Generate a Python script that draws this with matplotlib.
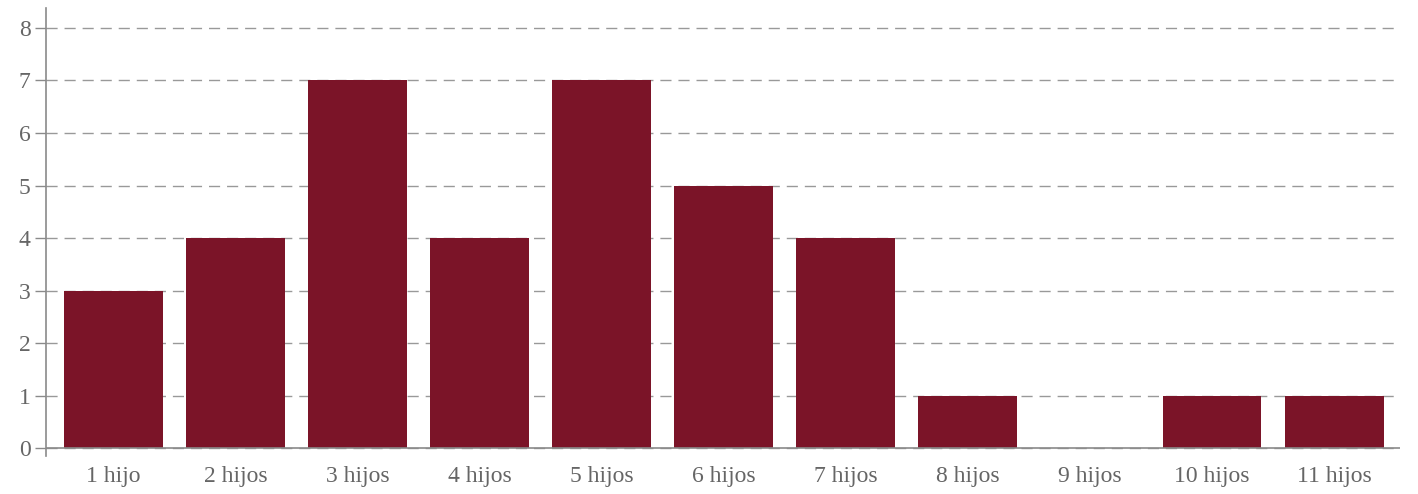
import matplotlib.pyplot as plt

categorias = ["1 hijo", "2 hijos", "3 hijos", "4 hijos", "5 hijos", "6 hijos",
              "7 hijos", "8 hijos", "9 hijos", "10 hijos", "11 hijos"]
valores = [3, 4, 7, 4, 7, 5, 4, 1, 0, 1, 1]
yticks = [0, 1, 2, 3, 4, 5, 6, 7, 8]

plt.rcParams['font.family'] = ['Liberation Serif', 'DejaVu Serif']

gris = '#8a8a8a'
texto = '#666666'

fig = plt.figure(figsize=(14.18, 4.94), dpi=100)
ax = fig.add_axes([0.0324, 0.0769, 0.9549, 0.9069])

x = range(len(categorias))
ax.bar(x, valores, width=0.81, color='#7b1428', zorder=2)
ax.axhline(0, color=gris, lw=1.2, zorder=3)

ax.set_xlim(-0.553, 10.54)
ax.set_ylim(-0.15, 8.38)
ax.set_yticks(yticks)
ax.set_xticks(list(x))
ax.set_xticklabels(categorias)
ax.yaxis.grid(True, color='#999999', linestyle=(0, (8, 5)), lw=1, zorder=1)
ax.set_axisbelow(True)

for s in ['top', 'right', 'bottom']:
    ax.spines[s].set_visible(False)
ax.spines['left'].set_color(gris)
ax.spines['left'].set_linewidth(1.2)

ax.tick_params(axis='y', colors=gris, length=8, width=1, labelsize=17,
               labelcolor=texto, pad=3)
ax.tick_params(axis='x', length=0, labelsize=17, labelcolor=texto, pad=7)

fig.savefig('out.png')
